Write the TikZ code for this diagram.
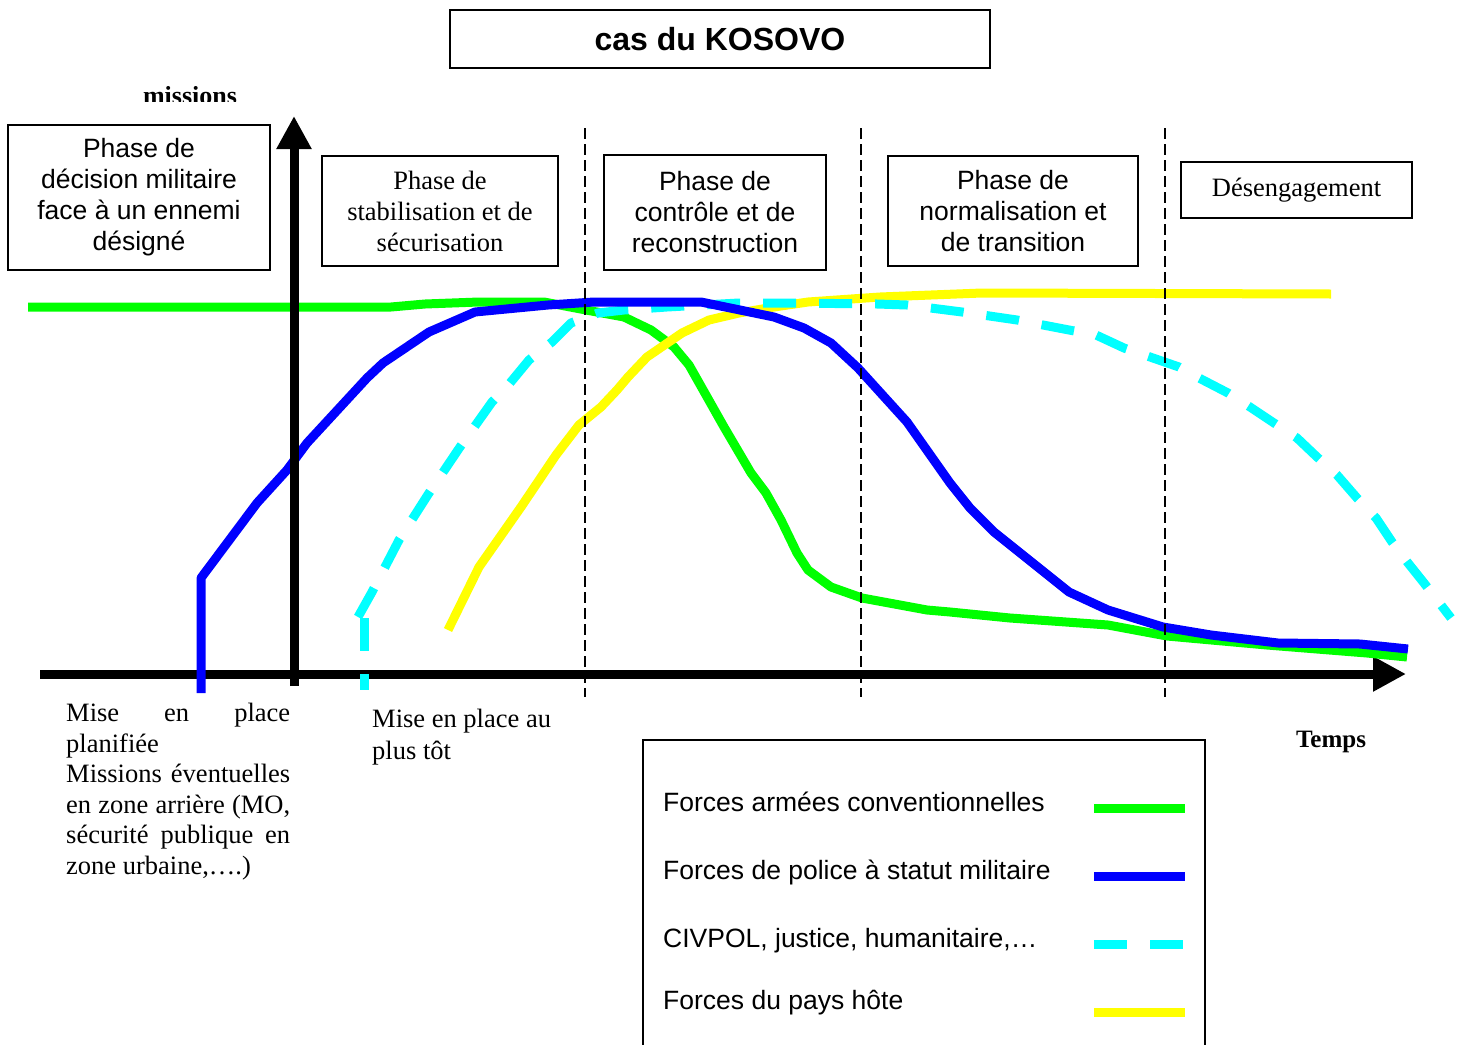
\documentclass[tikz,border=0pt]{standalone}
\usepackage{fontspec}
\setmainfont{Liberation Serif}
\setsansfont{Liberation Sans}
\usetikzlibrary{arrows.meta}

\definecolor{convgreen}{RGB}{0,255,0}
\definecolor{policeblue}{RGB}{0,0,255}
\definecolor{civcyan}{RGB}{0,255,255}
\definecolor{hoteyellow}{RGB}{255,255,0}

\tikzset{
  phasebox/.style={draw, line width=1.6pt, align=center, inner sep=0pt},
  sanstxt/.style={font=\sffamily\fontsize{26.5}{31}\selectfont},
  seriftxt/.style={font=\fontsize{26.5}{31}\selectfont},
  curve/.style={line width=9pt, line join=round},
  convline/.style={curve, convgreen},
  policeline/.style={curve, policeblue},
  civline/.style={curve, civcyan, dash pattern=on 33pt off 23pt},
  hoteline/.style={curve, hoteyellow},
  axis/.style={line width=9pt, -{Triangle[length=33pt,width=33pt]}},
  phasesep/.style={line width=1.5pt, dash pattern=on 11pt off 5pt},
}

\begin{document}
\begin{tikzpicture}[x=1pt,y=-1pt]
  \clip (0,0) rectangle (1458,1044);

  % title and phases
  \node[draw, line width=1.6pt, minimum width=540pt, minimum height=58pt,
        font=\sffamily\bfseries\fontsize{32}{38}\selectfont] (title) at (720,39) {cas du KOSOVO};
  \node[phasebox, sanstxt, minimum width=262pt, minimum height=145pt] (phDecision) at (139,197.5)
    {Phase de\\décision militaire\\face à un ennemi\\désigné};
  \node[phasebox, seriftxt, minimum width=236pt, minimum height=110pt] (phStabil) at (440,211)
    {Phase de\\stabilisation et de\\sécurisation};
  \node[phasebox, sanstxt, minimum width=222pt, minimum height=115pt] (phControle) at (715,212.5)
    {Phase de\\contrôle et de\\reconstruction};
  \node[phasebox, sanstxt, minimum width=250pt, minimum height=110pt] (phNormal) at (1013,211)
    {Phase de\\normalisation et\\de transition};
  \node[phasebox, seriftxt, minimum width=231pt, minimum height=56pt] (phDeseng) at (1296.5,190)
    {Désengagement};

  % legend
  \node[draw, line width=1.6pt, minimum width=562pt, minimum height=340pt, anchor=north west] (legendBox) at (642,739) {};
  \node[sanstxt, anchor=base west, inner sep=0pt] (legConv) at (663,811) {Forces armées conventionnelles};
  \node[sanstxt, anchor=base west, inner sep=0pt] (legPolice) at (663,879) {Forces de police à statut militaire};
  \node[sanstxt, anchor=base west, inner sep=0pt] (legCivpol) at (663,947) {CIVPOL, justice, humanitaire,\ldots};
  \node[sanstxt, anchor=base west, inner sep=0pt] (legHote) at (663,1009) {Forces du pays hôte};
  \draw[convline] (1094,808) -- (1185,808);
  \draw[policeline] (1094,876) -- (1185,876);
  \draw[civline] (1094,944) -- (1183,944);
  \draw[hoteline] (1094,1012) -- (1185,1012);

  % time axis
  \draw[axis] (40,674) -- (1406,674);

  % curves
  \draw[convline] (28,307) -- (391,307) -- (425,304) -- (479,302) -- (544,302) -- (586,310)
    -- (624,317) -- (651,330) -- (674,347) -- (689,365) -- (724,427) -- (751,473) -- (766,493)
    -- (781,520) -- (797,553) -- (808,570) -- (831,587) -- (862,598) -- (927,610) -- (950,612)
    -- (1010,618) -- (1108,625) -- (1167,636) -- (1267,645) -- (1367,653) -- (1407,657);
  \draw[hoteline] (448,630) -- (479,567) -- (521,507) -- (556,455) -- (579,425) -- (601,407)
    -- (617,390) -- (628,377) -- (647,357) -- (682,333) -- (709,320) -- (739,313) -- (774,307)
    -- (808,302) -- (880,297) -- (982,293) -- (1331,294);
  \draw[civline] (364,618) -- (364,690);
  \draw[civline] (358,617) -- (372,592) -- (399,540) -- (429,493) -- (460,447) -- (492,402)
    -- (510,383) -- (529,360) -- (552,342) -- (571,323) -- (598,313) -- (624,310) -- (667,307)
    -- (739,303) -- (793,303) -- (877,304) -- (907,305) -- (962,312) -- (1017,320) -- (1069,330)
    -- (1096,335) -- (1124,348) -- (1179,367) -- (1199,378) -- (1228,393) -- (1250,407)
    -- (1274,423) -- (1297,438) -- (1317,457) -- (1337,475) -- (1357,498) -- (1376,518)
    -- (1392,542) -- (1408,563) -- (1424,583) -- (1451,618);
  \draw[policeline] (201,693) -- (201,578) -- (257,503) -- (287,470) -- (307,443) -- (367,378)
    -- (383,363) -- (429,332) -- (475,312) -- (548,305) -- (594,302) -- (701,302) -- (774,317)
    -- (804,328) -- (831,343) -- (858,368) -- (907,422) -- (950,483) -- (970,508) -- (994,532)
    -- (1069,592) -- (1108,610) -- (1163,627) -- (1211,635) -- (1278,643) -- (1360,644)
    -- (1408,649);

  % missions axis
  \draw[axis] (294,686) -- (294,116);

  % phase limits
  \foreach \xs in {585,861,1165}
    \draw[phasesep] (\xs,128) -- (\xs,697);

  % axis labels
  \begin{scope}
    \clip (100,60) rectangle (300,101);
    \node[font=\bfseries\fontsize{26}{30}\selectfont, anchor=base] (lblMissions) at (190,104) {missions};
  \end{scope}
  \node[font=\bfseries\fontsize{25}{30}\selectfont, anchor=base] (lblTemps) at (1331,747) {Temps};

  % notes under the axis
  \node[font=\fontsize{26.5}{30.6}\selectfont, anchor=north west, text width=224pt, align=justify, inner sep=0pt]
    (notePlanif) at (66,703)
    {Mise en place\break planifiée\hfill\break Missions éventuelles\break en zone arrière (MO,\break
     sécurité publique en\break zone urbaine,\ldots.)};
  \node[font=\fontsize{26.5}{32}\selectfont, anchor=north west, align=left, inner sep=0pt]
    (noteTot) at (372,709) {Mise en place au\\plus tôt};
\end{tikzpicture}
\end{document}
